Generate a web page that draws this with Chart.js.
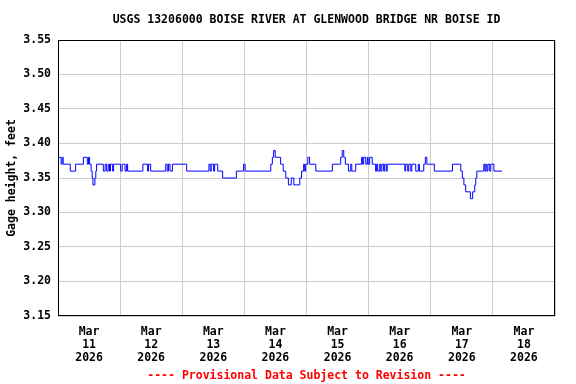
<!DOCTYPE html>
<html>
<head>
<meta charset="utf-8">
<script src="https://cdn.jsdelivr.net/npm/chart.js@4"></script>
<style>
  body { margin: 0; background: #fff; }
  canvas { display: block; }
</style>
</head>
<body>
<canvas id="gageChart" width="576" height="384"></canvas>
<script>
// hours since Mar 11 00:00, and gage height (ft) starting at that hour
const hours = [
  0, 1.2, 1.6, 2.0, 4.75, 6.8, 9.8, 11.3, 11.8, 12.2,
  12.8, 13.2, 13.5, 14.25, 14.6, 14.9, 17.5, 18.2, 18.8, 19.4,
  19.9, 20.3, 21.1, 21.5, 24.2, 24.8, 25.9, 26.5, 26.9, 32.8,
  34.6, 35.0, 35.8, 41.6, 42.2, 42.7, 43.3, 44.2, 49.7, 58.3,
  58.8, 59.2, 60.1, 60.5, 61.7, 63.6, 68.9, 71.7, 72.3, 82.2,
  82.8, 83.3, 83.9, 86.0, 87.0, 88.0, 89.0, 90.1, 91.1, 93.4,
  94.1, 94.9, 95.3, 95.7, 96.5, 97.2, 99.6, 106.0, 109.2, 109.8,
  110.4, 111.0, 112.2, 113.1, 113.5, 115.0, 117.3, 117.7, 118.1, 118.9,
  119.5, 119.8, 120.4, 121.4, 122.7, 123.1, 123.5, 124.3, 124.7, 125.1,
  125.8, 126.2, 126.8, 127.2, 134.0, 134.3, 135.1, 135.5, 136.3, 136.7,
  138.2, 139.2, 139.6, 141.3, 141.9, 142.5, 145.4, 152.4, 155.6, 156.2,
  156.8, 157.5, 159.3, 160.2, 161.0, 161.4, 161.8, 164.5, 164.9, 165.3,
  165.7, 166.1, 166.8, 167.2, 168.4, 171.5
];
const stage = [
  3.38, 3.37, 3.38, 3.37, 3.36, 3.37, 3.38, 3.37, 3.38, 3.37,
  3.36, 3.35, 3.34, 3.35, 3.36, 3.37, 3.36, 3.37, 3.36, 3.37,
  3.36, 3.37, 3.36, 3.37, 3.36, 3.37, 3.36, 3.37, 3.36, 3.37,
  3.36, 3.37, 3.36, 3.37, 3.36, 3.37, 3.36, 3.37, 3.36, 3.37,
  3.36, 3.37, 3.36, 3.37, 3.36, 3.35, 3.36, 3.37, 3.36, 3.37,
  3.38, 3.39, 3.38, 3.37, 3.36, 3.35, 3.34, 3.35, 3.34, 3.35,
  3.36, 3.37, 3.36, 3.37, 3.38, 3.37, 3.36, 3.37, 3.38, 3.39,
  3.38, 3.37, 3.36, 3.37, 3.36, 3.37, 3.38, 3.37, 3.38, 3.37,
  3.38, 3.37, 3.38, 3.37, 3.36, 3.37, 3.36, 3.37, 3.36, 3.37,
  3.36, 3.37, 3.36, 3.37, 3.36, 3.37, 3.36, 3.37, 3.36, 3.37,
  3.36, 3.37, 3.36, 3.37, 3.38, 3.37, 3.36, 3.37, 3.36, 3.35,
  3.34, 3.33, 3.32, 3.33, 3.34, 3.35, 3.36, 3.37, 3.36, 3.37,
  3.36, 3.37, 3.36, 3.37, 3.36, 3.36
];

const monthLabel = 'Mar';
const dayLabels = ['11', '12', '13', '14', '15', '16', '17', '18'];
const yearLabel = '2026';
const yMin = 3.15;
const yMax = 3.55;
const yStep = 0.05;
const totalHours = 192;

const titleText = 'USGS 13206000 BOISE RIVER AT GLENWOOD BRIDGE NR BOISE ID';
const footerText = '---- Provisional Data Subject to Revision ----';
const yTitle = 'Gage height, feet';

const monoFont = '"DejaVu Sans Mono", "Liberation Mono", monospace';
const fontSize = 11.5;

// title, footer and box around the plot
const usgsText = {
  id: 'usgsText',
  afterDraw(chart) {
    const { ctx, chartArea } = chart;
    const cx = (chartArea.left + chartArea.right) / 2;
    ctx.save();
    ctx.textAlign = 'center';
    ctx.textBaseline = 'middle';
    ctx.fillStyle = '#000';
    ctx.font = 'bold ' + fontSize + 'px ' + monoFont;
    ctx.fillText(titleText, cx, 20);
    ctx.fillStyle = '#ff0000';
    ctx.fillText(footerText, cx, 376);
    ctx.strokeStyle = '#000';
    ctx.lineWidth = 1;
    ctx.strokeRect(Math.round(chartArea.left) + 0.5, Math.round(chartArea.top) + 0.5,
      Math.round(chartArea.right - chartArea.left) - 1, Math.round(chartArea.bottom - chartArea.top) - 1);
    ctx.restore();
  }
};

const points = hours.map((h, i) => ({ x: h, y: stage[i] }));

const config = {
  type: 'line',
  data: {
    datasets: [{
      label: 'Gage height',
      data: points,
      borderColor: '#0000ff',
      borderWidth: 1,
      pointRadius: 0,
      stepped: true,
      fill: false
    }]
  },
  options: {
    responsive: false,
    animation: false,
    layout: { padding: { top: 40, right: 21, bottom: 0, left: 0 } },
    plugins: {
      legend: { display: false },
      tooltip: { enabled: false }
    },
    scales: {
      x: {
        type: 'linear',
        position: 'bottom',
        min: 0,
        max: totalHours,
        grid: { display: false },
        border: { display: false },
        ticks: {
          autoSkip: false,
          maxRotation: 0,
          padding: 1.5,
          color: '#000',
          font: { family: monoFont, size: fontSize, weight: 'bold', lineHeight: 13 / fontSize },
          callback: (v, i) => [monthLabel, dayLabels[i], yearLabel]
        },
        afterBuildTicks: (scale) => {
          scale.ticks = dayLabels.map((d, i) => ({ value: 12 + 24 * i }));
        },
        afterFit: (scale) => { scale.height = 68; }
      },
      xGrid: {
        type: 'linear',
        position: 'top',
        min: 0,
        max: totalHours,
        grid: { color: '#cccccc', drawTicks: false },
        border: { display: false },
        ticks: { display: false, stepSize: 24 },
        afterFit: (scale) => { scale.height = 0; }
      },
      y: {
        min: yMin,
        max: yMax,
        grid: { color: '#cccccc', drawTicks: false },
        border: { display: false },
        ticks: {
          stepSize: yStep,
          padding: 7,
          color: '#000',
          font: { family: monoFont, size: fontSize, weight: 'bold' },
          callback: (v) => Number(v).toFixed(2)
        },
        title: {
          display: true,
          text: yTitle,
          color: '#000',
          padding: { top: 5, bottom: 0 },
          font: { family: monoFont, size: fontSize, weight: 'bold' }
        },
        afterFit: (scale) => { scale.width = 58; }
      }
    }
  },
  plugins: [usgsText]
};

document.addEventListener('DOMContentLoaded', () => {
  new Chart(document.getElementById('gageChart'), config);
});
</script>
</body>
</html>
